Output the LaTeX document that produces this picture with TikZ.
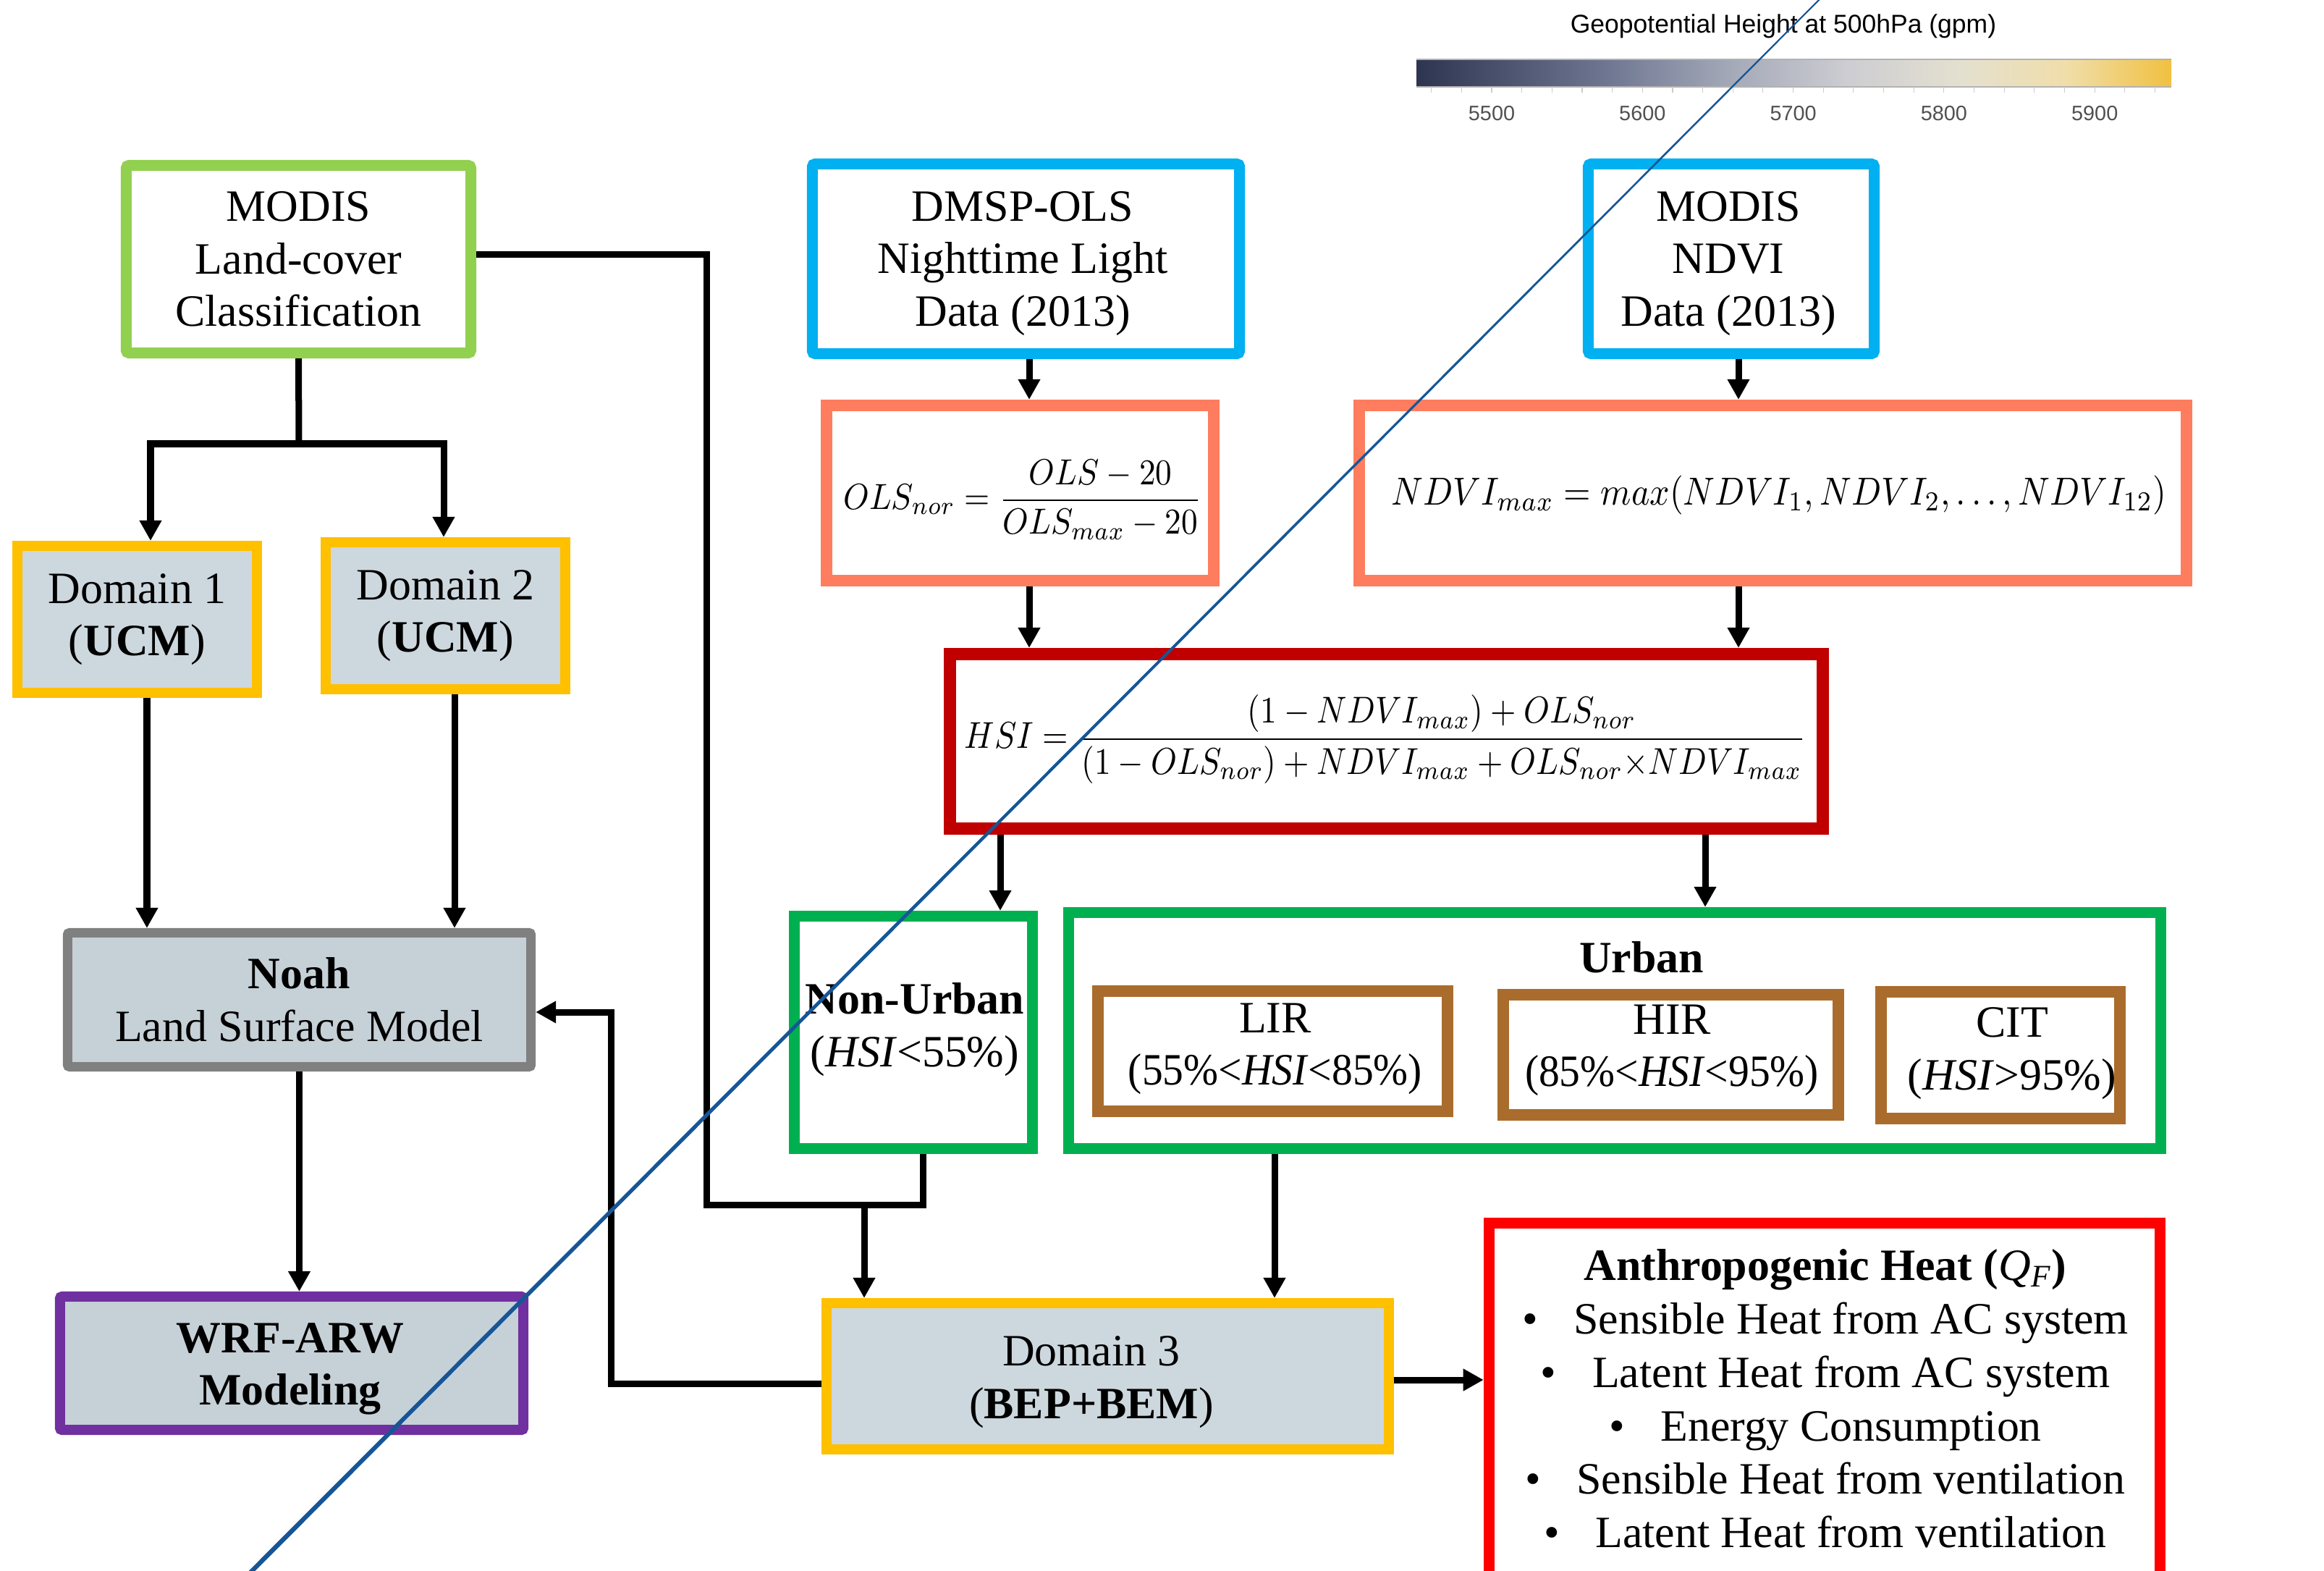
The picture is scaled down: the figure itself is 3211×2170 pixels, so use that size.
\documentclass[tikz,border=0pt]{standalone}
\usepackage{fontspec}
\usepackage{graphicx}
\setmainfont{Liberation Serif}
\newfontfamily\lsans{Liberation Sans}
\usetikzlibrary{arrows.meta,calc}
\definecolor{lgreen}{RGB}{146,208,80}
\definecolor{cyanb}{RGB}{0,176,240}
\definecolor{coral}{RGB}{255,125,95}
\definecolor{dred}{RGB}{192,0,0}
\definecolor{mgreen}{RGB}{0,176,80}
\definecolor{brownb}{RGB}{170,108,44}
\definecolor{goldb}{RGB}{255,192,0}
\definecolor{grayb}{RGB}{128,128,128}
\definecolor{purp}{RGB}{112,48,160}
\definecolor{bfill}{RGB}{205,215,222}
\definecolor{bfilltwo}{RGB}{198,208,215}
\definecolor{diag}{RGB}{22,86,150}
\definecolor{cbzero}{RGB}{46,53,80}
\definecolor{cbone}{RGB}{110,118,145}
\definecolor{cbtwo}{RGB}{165,170,185}
\definecolor{cbthree}{RGB}{205,205,210}
\definecolor{cbfour}{RGB}{228,224,208}
\definecolor{cbfive}{RGB}{240,222,170}
\definecolor{cbsix}{RGB}{240,192,64}
\definecolor{ticklab}{RGB}{80,80,80}
\tikzset{
  box/.style={draw, inner sep=0pt, align=center, font=\fontsize{17.6}{20.6}\selectfont},
  txt/.style={inner sep=0pt, align=center, font=\fontsize{17.6}{20.6}\selectfont},
  ln/.style={line width=0.09cm, black},
  arr/.style={ln, -{Triangle[length=0.28cm,width=0.29cm]}},
}
\begin{document}
\begin{tikzpicture}[x=0.01cm,y=-0.01cm]
\useasboundingbox (0,0) rectangle (3211,2170);
\fill[white] (0,0) rectangle (3211,2170);

% colour bar
\node[inner sep=0pt, font=\lsans\fontsize{10.1}{12}\selectfont] (cbt) at (2464,36) {Geopotential Height at 500hPa (gpm)};
\shade[left color=cbzero, right color=cbone] (1957,82) rectangle (2219.5,120);
\shade[left color=cbone, right color=cbtwo] (2219,82) rectangle (2395.5,120);
\shade[left color=cbtwo, right color=cbthree] (2395,82) rectangle (2552.5,120);
\shade[left color=cbthree, right color=cbfour] (2552,82) rectangle (2708.5,120);
\shade[left color=cbfour, right color=cbfive] (2708,82) rectangle (2854.5,120);
\shade[left color=cbfive, right color=cbsix] (2854,82) rectangle (3000,120);
\draw[gray!60, line width=0.4pt] (1957,82) -- (3000,82) (1957,120) -- (3000,120);
\foreach \v in {5460,5480,...,5940}
  \draw[gray!40, line width=0.3pt] ({2061+(\v-5500)*2.083},120) -- ++(0,8);
\foreach \v in {5500,5600,...,5900}
  \node[inner sep=0pt, text=ticklab, font=\lsans\fontsize{8.2}{10}\selectfont] (t\v) at ({2061+(\v-5500)*2.083},157) {\v};

% boxes
\node[box, draw=lgreen, line width=0.15cm, rounded corners=0.04cm, minimum width=4.76cm, minimum height=2.59cm] (lc) at (412.5,358) {MODIS\\Land-cover\\Classification};
\node[box, draw=cyanb, line width=0.15cm, rounded corners=0.04cm, minimum width=5.90cm, minimum height=2.62cm] (dmsp) at (1417.5,357.5) {};
\node[txt] (dmspt) at (1413,364) {DMSP-OLS\\Nighttime Light\\Data (2013)};
\node[box, draw=cyanb, line width=0.15cm, rounded corners=0.04cm, minimum width=3.95cm, minimum height=2.62cm] (ndvi) at (2392,357.5) {};
\node[txt] (ndvit) at (2388,364) {MODIS\\NDVI\\Data (2013)};

\node[box, draw=coral, line width=0.16cm, minimum width=5.35cm, minimum height=2.42cm] (ols) at (1409.5,681) {};
\node[inner sep=0pt] (olsf) at (1413,690) {\resizebox*{4.95cm}{1.10cm}{$\displaystyle OLS_{nor}=\frac{OLS-20}{OLS_{max}-20}$}};
\node[box, draw=coral, line width=0.16cm, minimum width=11.43cm, minimum height=2.42cm] (nmax) at (2449.5,681) {};
\node[inner sep=0pt] (nmaxf) at (2458,684) {\resizebox*{10.7cm}{0.54cm}{$NDVI_{max}=max(NDVI_1,NDVI_2,\dots,NDVI_{12})$}};

\node[box, draw=dred, line width=0.17cm, minimum width=12.06cm, minimum height=2.41cm] (hsi) at (1915.5,1024) {};
\node[inner sep=0pt] (hsif) at (1914,1021) {\resizebox*{11.62cm}{1.22cm}{$\displaystyle HSI=\frac{(1-NDVI_{max})+OLS_{nor}}{(1-OLS_{nor})+NDVI_{max}+OLS_{nor}{\times}NDVI_{max}}$}};

\node[box, draw=goldb, fill=bfill, line width=0.14cm, minimum width=3.31cm, minimum height=2.03cm] (d1) at (189.5,855.5) {Domain 1\\(\textbf{UCM})};
\node[box, draw=goldb, fill=bfill, line width=0.14cm, minimum width=3.31cm, minimum height=2.03cm] (d2) at (615.5,850.5) {Domain 2\\(\textbf{UCM})};
\node[box, draw=grayb, fill=bfilltwo, line width=0.13cm, rounded corners=0.03cm, minimum width=6.40cm, minimum height=1.85cm] (noah) at (413.5,1381) {\textbf{Noah}\\Land Surface Model};
\node[box, draw=purp, fill=bfilltwo, line width=0.14cm, rounded corners=0.03cm, minimum width=6.40cm, minimum height=1.84cm] (wrf) at (403,1883) {};
\node[txt] (wrft) at (401,1891) {\textbf{WRF-ARW}\\\textbf{Modeling}};

\node[box, draw=mgreen, line width=0.15cm, minimum width=3.29cm, minimum height=3.21cm] (nonurban) at (1262,1426) {};
\node[txt] (nut) at (1264,1422) {\textbf{Non-Urban}\\(\textit{HSI}<55\%)};
\node[box, draw=mgreen, line width=0.15cm, minimum width=15.09cm, minimum height=3.26cm] (urban) at (2231,1423.5) {};
\node[txt] (urt) at (2268,1322) {\textbf{Urban}};
\node[box, draw=brownb, line width=0.16cm, minimum width=4.83cm, minimum height=1.66cm] (lir) at (1758.5,1452) {};
\node[txt] (lirt) at (1762,1449) {LIR\\\scalebox{0.93}[1]{(55\%<\textit{HSI}<85\%)}};
\node[box, draw=brownb, line width=0.16cm, minimum width=4.63cm, minimum height=1.66cm] (hir) at (2308.5,1457) {};
\node[txt] (hirt) at (2310,1451) {HIR\\\scalebox{0.93}[1]{(85\%<\textit{HSI}<95\%)}};
\node[box, draw=brownb, line width=0.16cm, minimum width=3.30cm, minimum height=1.75cm] (cit) at (2764,1457.5) {};
\node[txt] (citt) at (2780,1455) {CIT\\(\textit{HSI}>95\%)};

\node[box, draw=goldb, fill=bfill, line width=0.14cm, minimum width=7.77cm, minimum height=2.02cm] (d3) at (1530.5,1901) {};
\node[txt] (d3t) at (1508,1909) {Domain 3\\(\textbf{BEP+BEM})};

\node[box, draw=red, line width=0.15cm, minimum width=9.27cm, minimum height=5.30cm] (ah) at (2521,1954.5) {};
\node[txt, font=\fontsize{17.6}{21}\selectfont] (aht) at (2522,1932) {\textbf{Anthropogenic Heat (}\textit{Q}\textsubscript{\textit{F}}\textbf{)}\\
\textbullet\hspace{0.8em}Sensible Heat from AC system\\
\textbullet\hspace{0.8em}Latent Heat from AC system\\
\textbullet\hspace{0.8em}Energy Consumption\\
\textbullet\hspace{0.8em}Sensible Heat from ventilation\\
\textbullet\hspace{0.8em}Latent Heat from ventilation};

% connectors
\coordinate (j1) at (413,613);
\draw[ln] (lc.south) -- (j1);
\coordinate (d1n) at ($(d1.north)+(18.5,0)$);
\coordinate (d2n) at ($(d2.north)+(-2.5,0)$);
\draw[arr] (j1) -| (d1n);
\draw[arr] (j1) -| (d2n);
\coordinate (p1) at ($(d1.south)+(13.5,0)$);
\coordinate (p2) at ($(d2.south)+(12.5,0)$);
\draw[arr] (p1) -- (p1 |- noah.north);
\draw[arr] (p2) -- (p2 |- noah.north);
\draw[arr] (noah.south) -- (noah.south |- wrf.north);
\coordinate (p3) at ($(dmsp.south)+(4.5,0)$);
\draw[arr] (p3) -- (p3 |- ols.north);
\coordinate (p4) at ($(ndvi.south)+(10,0)$);
\draw[arr] (p4) -- (p4 |- nmax.north);
\coordinate (p5) at ($(ols.south)+(12.5,0)$);
\draw[arr] (p5) -- (p5 |- hsi.north);
\coordinate (p6) at ($(nmax.south)+(-47.5,0)$);
\draw[arr] (p6) -- (p6 |- hsi.north);
\coordinate (p7) at ($(hsi.south)+(-533.5,0)$);
\draw[arr] (p7) -- (p7 |- nonurban.north);
\coordinate (p8) at ($(hsi.south)+(440.5,0)$);
\draw[arr] (p8) -- (p8 |- urban.north);
\coordinate (p9) at ($(lc.east)+(0,-6)$);
\coordinate (c1) at (976,1664);
\coordinate (p10) at ($(nonurban.south)+(13,0)$);
\draw[ln] (p9) -| (c1) -| (p10);
\coordinate (c2) at (1194,1664);
\draw[arr] (c2) -- (c2 |- d3.north);
\coordinate (p11) at ($(urban.south)+(-470,0)$);
\draw[arr] (p11) -- (p11 |- d3.north);
\coordinate (p12) at ($(d3.west)+(0,10)$);
\coordinate (c3) at (844,1911);
\coordinate (p13) at ($(noah.east)+(0,17)$);
\draw[arr] (p12) -- (c3) |- (p13);
\coordinate (p14) at ($(d3.east)+(0,5)$);
\draw[arr] (p14) -- (p14 -| ah.west);

% diagonal line
\fill[diag] (2516.5,-5) -- (2519.5,-5) -- (347.5,2175) -- (338.5,2175) -- cycle;
\end{tikzpicture}
\end{document}
